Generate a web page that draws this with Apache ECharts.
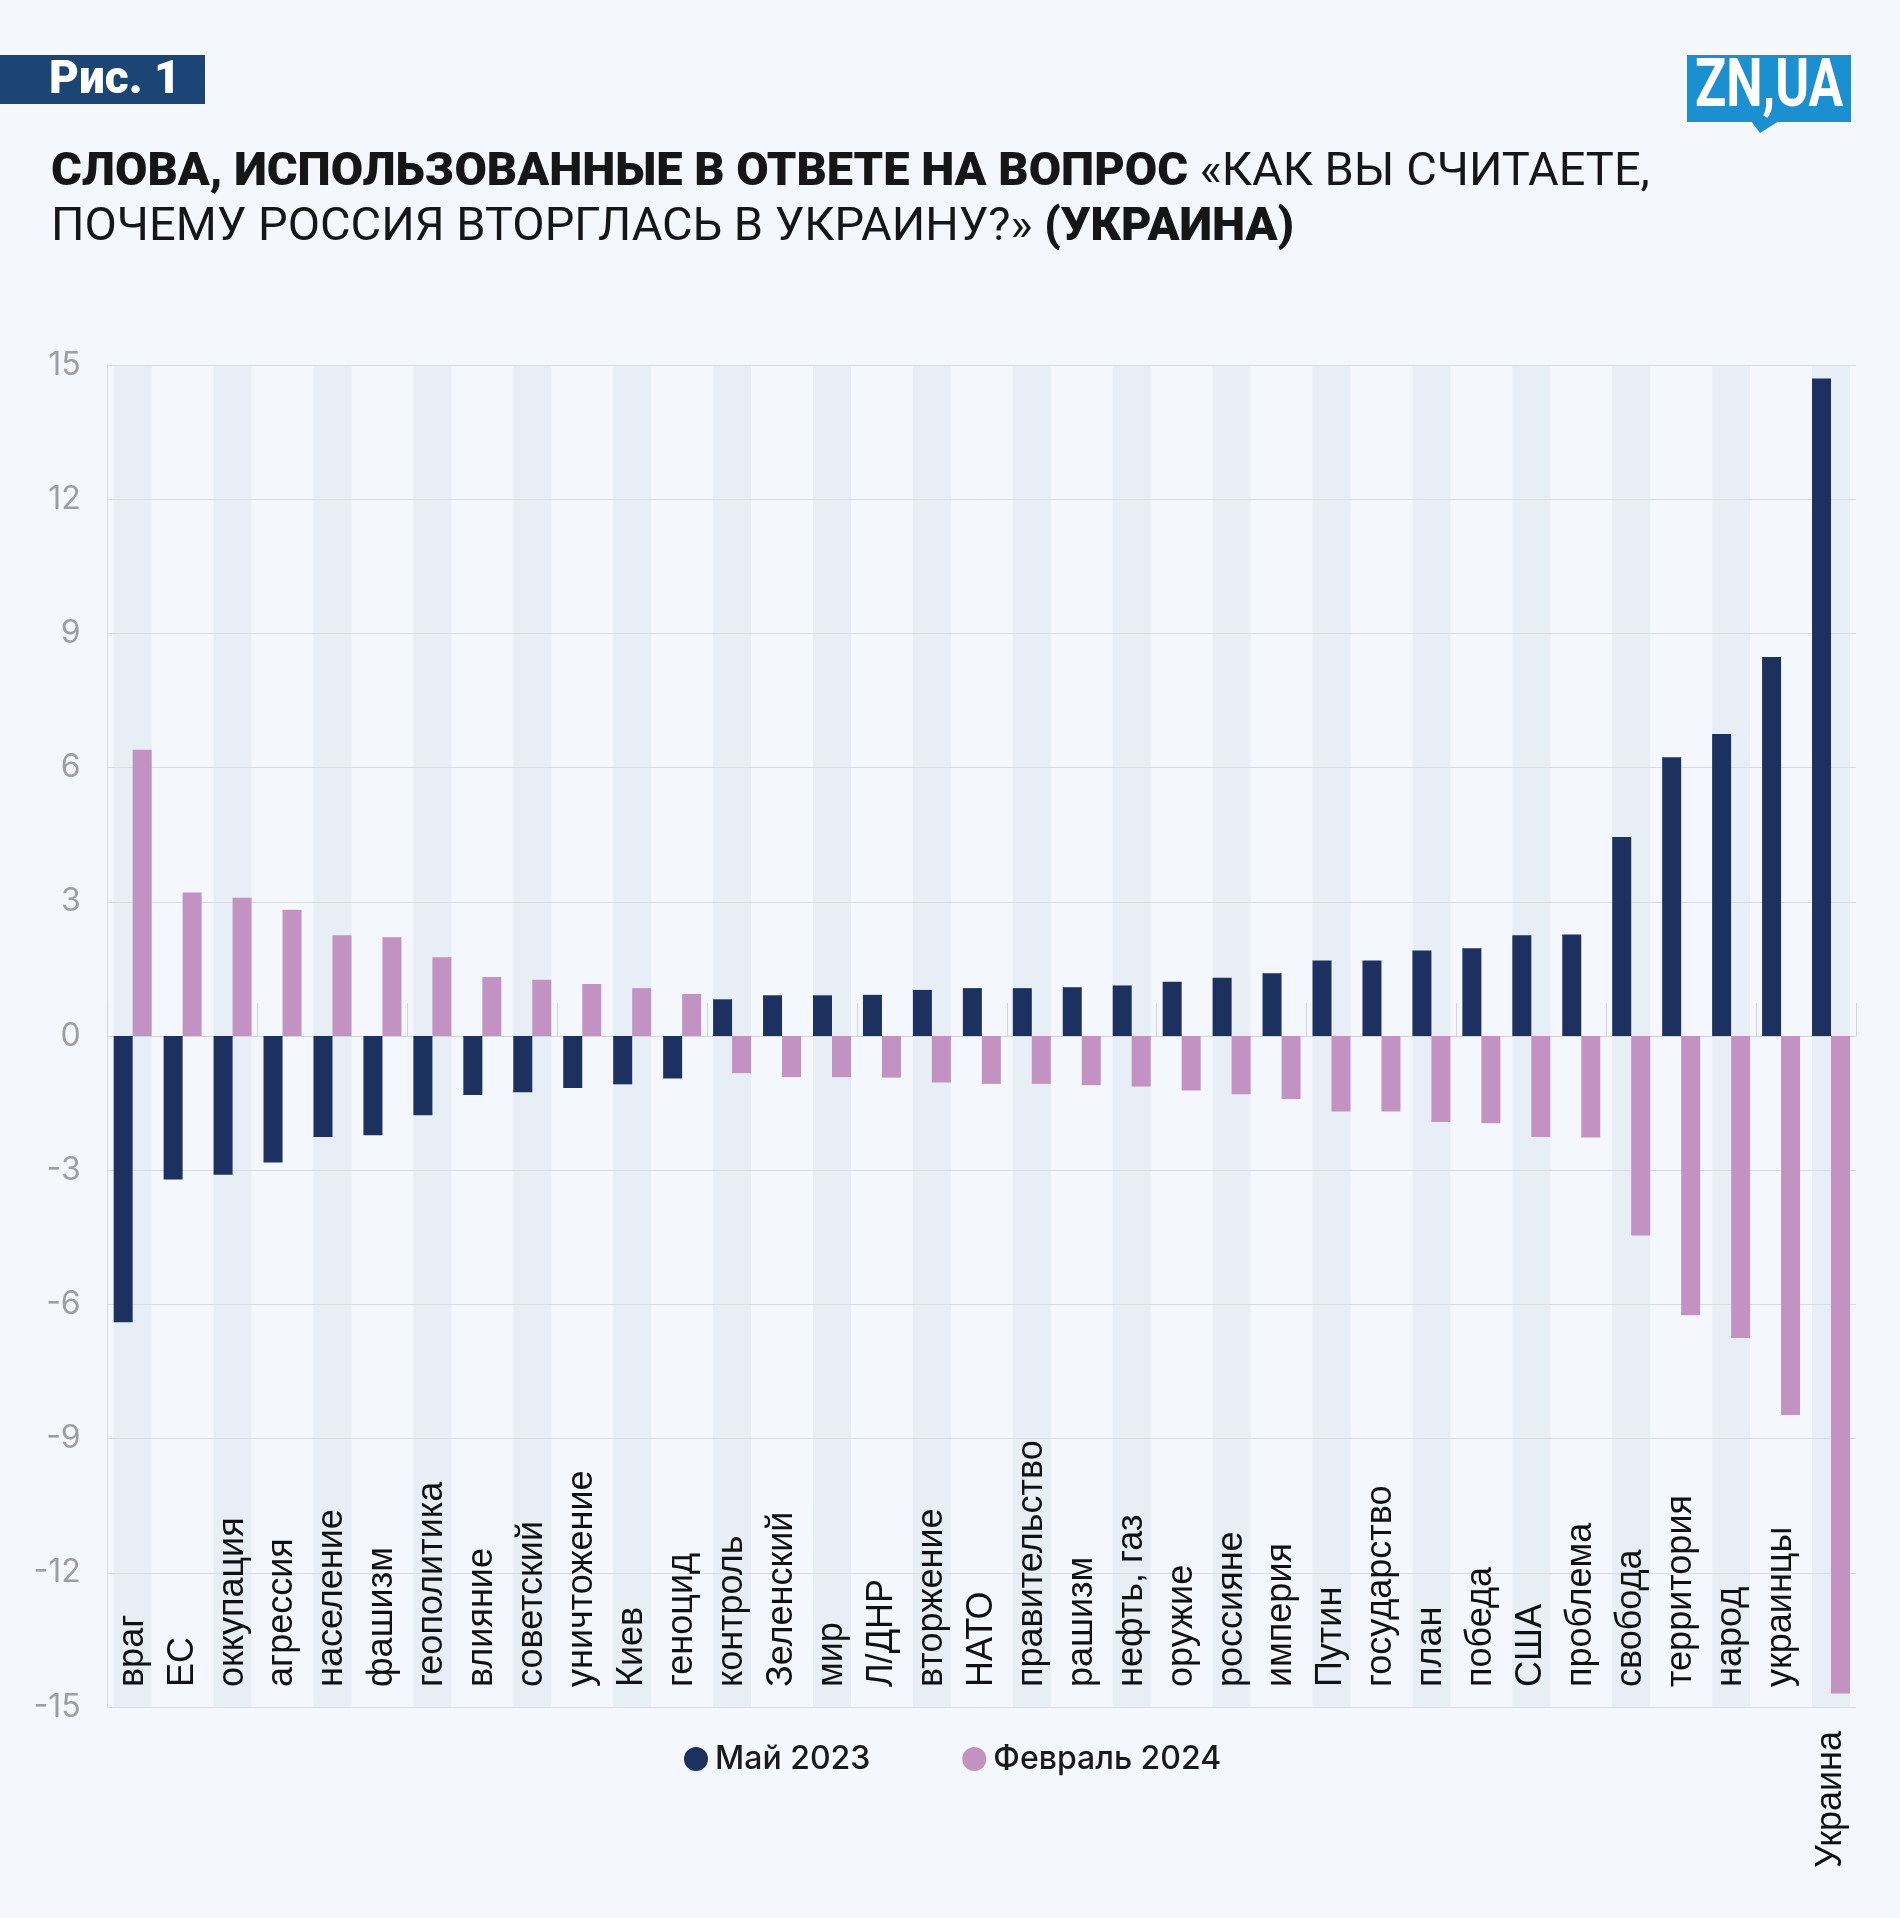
<!DOCTYPE html>
<html>
<head>
<meta charset="utf-8">
<script src="https://cdn.jsdelivr.net/npm/echarts@6/dist/echarts.min.js"></script>
<style>
  html, body { margin: 0; padding: 0; background: #f4f8fe; }
  #chart { width: 1900px; height: 1918px; }
</style>
</head>
<body>
<div id="chart"></div>
<script>
// ---------- DATA ----------
const categories = ['враг', 'ЕС', 'оккупация', 'агрессия', 'население', 'фашизм', 'геополитика',
  'влияние', 'советский', 'уничтожение', 'Киев', 'геноцид', 'контроль', 'Зеленский', 'мир',
  'Л/ДНР', 'вторжение', 'НАТО', 'правительство', 'рашизм', 'нефть, газ', 'оружие', 'россияне',
  'империя', 'Путин', 'государство', 'план', 'победа', 'США', 'проблема', 'свобода',
  'территория', 'народ', 'украинцы', 'Украина'];

const may2023 = [-6.4, -3.21, -3.1, -2.83, -2.26, -2.22, -1.77, -1.32, -1.26, -1.16, -1.08, -0.95,
  0.82, 0.91, 0.91, 0.92, 1.03, 1.07, 1.07, 1.09, 1.13, 1.21, 1.3, 1.4, 1.69, 1.69, 1.91, 1.96,
  2.25, 2.27, 4.45, 6.23, 6.75, 8.47, 14.7];

const feb2024 = [6.4, 3.21, 3.09, 2.82, 2.25, 2.21, 1.76, 1.32, 1.26, 1.16, 1.07, 0.94,
  -0.83, -0.92, -0.92, -0.93, -1.04, -1.07, -1.07, -1.1, -1.13, -1.22, -1.3, -1.41, -1.69, -1.69,
  -1.92, -1.95, -2.26, -2.27, -4.46, -6.24, -6.75, -8.47, -14.7];

const seriesNames = ['Май 2023', 'Февраль 2024'];
const yMin = -15, yMax = 15, yStep = 3;
const belowAxisLabel = 'Украина';

const figLabel = 'Рис. 1';
const logoText = 'ZN,UA';
const titleBold1 = 'СЛОВА, ИСПОЛЬЗОВАННЫЕ В ОТВЕТЕ НА ВОПРОС';
const titleNorm1 = '«КАК ВЫ СЧИТАЕТЕ,';
const titleNorm2 = 'ПОЧЕМУ РОССИЯ ВТОРГЛАСЬ В УКРАИНУ?»';
const titleBold2 = '(УКРАИНА)';

// ---------- STYLE ----------
const C_DARK = '#1c3160';
const C_PINK = '#c192c2';
const C_STRIPE = '#e7eef6';
const C_BG = '#f4f8fe';
const C_GRID = '#d9dcdf';

const stripeUp = categories.map((c, i) => (i % 2 === 0 ? yMax : '-'));
const stripeDown = categories.map((c, i) => (i % 2 === 0 ? yMin : '-'));

const chart = echarts.init(document.getElementById('chart'), null, { renderer: 'canvas' });

const option = {
  backgroundColor: C_BG,
  animation: false,
  title: {
    left: 46,
    top: 141,
    text: '{b|' + titleBold1 + '} {n|' + titleNorm1 + '}\n{n|' + titleNorm2 + '} {b|' + titleBold2 + '}',
    textStyle: {
      fontFamily: 'Roboto',
      fontSize: 47,
      lineHeight: 55,
      color: '#161616',
      rich: {
        b: { fontFamily: 'Roboto', fontWeight: 900, fontSize: 47, lineHeight: 55, color: '#161616' },
        n: { fontFamily: 'Roboto', fontWeight: 'normal', fontSize: 47, lineHeight: 55, color: '#161616' }
      }
    }
  },
  graphic: [
    { type: 'rect', shape: { x: 0, y: 55, width: 205, height: 49 }, style: { fill: '#1a4574' } },
    { type: 'text', x: 49, y: 81, style: { text: figLabel, fill: '#ffffff', font: '900 46px Roboto', textVerticalAlign: 'middle', textAlign: 'left' } },
    { type: 'rect', shape: { x: 1687, y: 55, width: 164, height: 67 }, style: { fill: '#1b8fcf' } },
    { type: 'polygon', shape: { points: [[1751, 121], [1779, 121], [1760, 133]] }, style: { fill: '#1b8fcf' } },
    { type: 'text', x: 1769, y: 89, scaleX: 0.78, style: { text: logoText, fill: '#ffffff', font: 'bold 66px Roboto', textVerticalAlign: 'middle', textAlign: 'center' } }
  ],
  legend: {
    data: seriesNames,
    left: 679,
    top: 1738,
    icon: 'circle',
    itemWidth: 24,
    itemHeight: 24,
    itemGap: 92,
    textStyle: { fontFamily: 'Inter', fontSize: 32, fontWeight: 500, color: '#1a1a1a', padding: [0, 0, 0, 2] }
  },
  grid: { left: 107.7, right: 44, top: 365, bottom: 211, outerBoundsMode: 'none' },
  xAxis: [
    {
      type: 'category', data: categories,
      axisLine: { onZero: true, lineStyle: { color: '#cfd2d6', width: 1 } },
      axisTick: { show: true, inside: true, length: 33, lineStyle: { color: '#d3d6da' } },
      axisLabel: { show: false },
      splitLine: { show: false }
    },
    {
      type: 'category', data: categories, position: 'bottom',
      axisLine: { show: false, onZero: false },
      axisTick: { show: false },
      axisLabel: {
        show: true, inside: true, rotate: 90, margin: 20, interval: 0,
        fontFamily: 'Liberation Sans', fontSize: 36, color: '#111111',
        formatter: v => (v === belowAxisLabel ? '' : v)
      },
      splitLine: { show: false }
    },
    {
      type: 'category', data: categories, position: 'bottom',
      axisLine: { show: false, onZero: false },
      axisTick: { show: false },
      axisLabel: {
        show: true, inside: false, rotate: 90, margin: 24, interval: 0,
        fontFamily: 'Liberation Sans', fontSize: 36, color: '#111111',
        formatter: v => (v === belowAxisLabel ? v : '')
      },
      splitLine: { show: false }
    }
  ],
  yAxis: {
    type: 'value', min: yMin, max: yMax, interval: yStep,
    axisLine: { show: true, lineStyle: { color: '#d9dcdf' } },
    axisTick: { show: false },
    axisLabel: { color: '#9e9e9e', fontFamily: 'Inter', fontSize: 32, margin: 27 },
    splitLine: { lineStyle: { color: C_GRID, width: 1 } }
  },
  series: [
    { name: 'stripeUp', type: 'bar', xAxisIndex: 1, data: stripeUp, stack: 'bg', barWidth: 38,
      itemStyle: { color: C_STRIPE }, silent: true, z: -1 },
    { name: 'stripeDown', type: 'bar', xAxisIndex: 1, data: stripeDown, stack: 'bg', barWidth: 38,
      itemStyle: { color: C_STRIPE }, silent: true, z: -1 },
    { name: seriesNames[0], type: 'bar', xAxisIndex: 0, data: may2023, barWidth: 19, barGap: '0%',
      itemStyle: { color: C_DARK } },
    { name: seriesNames[1], type: 'bar', xAxisIndex: 0, data: feb2024, barWidth: 19, barGap: '0%',
      itemStyle: { color: C_PINK } }
  ]
};

chart.setOption(option);
</script>
</body>
</html>
